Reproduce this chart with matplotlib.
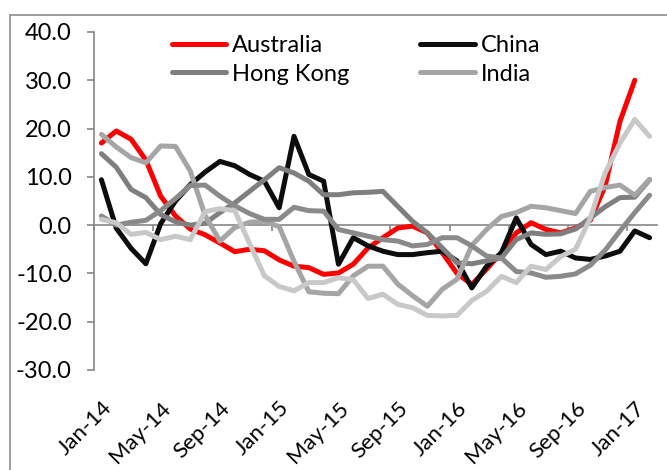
import numpy as np
import matplotlib.pyplot as plt
from matplotlib.patches import Rectangle
from matplotlib.ticker import FormatStrFormatter

plt.rcParams['font.family'] = ['Lato', 'DejaVu Sans']

# aylik veriler, Jan-14 .. Feb-17 (38 ay)
months = ["Jan-14", "Feb-14", "Mar-14", "Apr-14", "May-14", "Jun-14", "Jul-14", "Aug-14",
          "Sep-14", "Oct-14", "Nov-14", "Dec-14", "Jan-15", "Feb-15", "Mar-15", "Apr-15",
          "May-15", "Jun-15", "Jul-15", "Aug-15", "Sep-15", "Oct-15", "Nov-15", "Dec-15",
          "Jan-16", "Feb-16", "Mar-16", "Apr-16", "May-16", "Jun-16", "Jul-16", "Aug-16",
          "Sep-16", "Oct-16", "Nov-16", "Dec-16", "Jan-17", "Feb-17"]

australia = [17.0, 19.5, 17.8, 13.5, 6.0, 1.9, -0.8, -2.0, -3.7, -5.5, -5.0, -5.3,
             -7.2, -8.5, -8.8, -10.2, -9.9, -8.1, -4.7, -2.6, -0.6, -0.2, -1.6, -5.7,
             -10.0, -12.3, -9.1, -5.7, -1.6, 0.5, -0.9, -1.6, -0.6, 1.0, 8.1, 21.5,
             30.0, np.nan]
china = [9.4, -0.6, -4.8, -8.0, 0.3, 5.0, 8.4, 11.0, 13.2, 12.3, 10.5, 9.1,
         3.6, 18.4, 10.5, 9.1, -8.1, -2.6, -4.3, -5.4, -6.1, -6.1, -5.7, -5.4,
         -7.4, -13.0, -8.5, -5.7, 1.5, -4.0, -6.1, -5.4, -6.8, -7.1, -6.4, -5.4,
         -1.2, -2.6]
hong_kong = [14.8, 12.0, 7.4, 5.7, 2.2, 0.7, 0.0, 0.4, 2.6, 4.6, 7.0, 9.4,
             11.9, 10.8, 9.1, 6.3, 6.3, 6.7, 6.8, 7.0, 3.9, 0.8, -1.6, -4.7,
             -7.8, -8.0, -7.4, -6.8, -3.0, -1.6, -1.9, -1.8, -0.8, 1.5, 3.8, 5.7,
             5.8, 9.4]
india = [18.8, 16.2, 14.0, 12.9, 16.4, 16.3, 11.2, 2.0, -3.3, -0.5, 0.6, 0.8,
         -0.3, -7.5, -13.8, -14.1, -14.2, -10.5, -8.5, -8.5, -12.2, -14.6, -16.8, -13.3,
         -11.2, -4.2, -0.9, 1.8, 2.6, 3.9, 3.6, 3.0, 2.4, 7.0, 7.8, 8.3,
         6.2, 9.5]
series5 = [1.9, 0.0, 0.6, 1.0, 3.0, 5.5, 8.2, 8.3, 6.0, 4.0, 2.4, 1.2,
           1.2, 3.7, 3.0, 2.9, -0.9, -1.6, -2.3, -3.0, -3.3, -4.3, -4.0, -2.6,
           -2.6, -4.3, -6.4, -6.8, -9.6, -9.9, -10.8, -10.6, -10.1, -8.3, -5.2, -1.2,
           2.6, 6.2]
series6 = [1.2, 0.5, -1.9, -1.5, -3.0, -2.3, -3.0, 2.8, 3.4, 3.0, -3.8, -10.5,
           -12.7, -13.6, -11.9, -11.9, -10.9, -11.3, -15.2, -14.3, -16.4, -17.1, -18.7, -18.8,
           -18.7, -15.6, -13.7, -10.6, -11.9, -8.5, -9.2, -6.5, -5.0, 1.5, 10.8, 17.0,
           21.9, 18.4]

yticks = [-30, -20, -10, 0, 10, 20, 30, 40]

x = np.arange(len(months))
gri = '#868686'

fig = plt.figure(figsize=(6.67, 4.70), dpi=100)
ax = fig.add_axes([94 / 667, 1 - 370 / 470, (657 - 94) / 667, (370 - 32) / 470])

stil = dict(lw=3.6, solid_joinstyle='round', solid_capstyle='round')
l_au, = ax.plot(x, australia, color='#ff0000', label='Australia', **stil)
l_cn, = ax.plot(x, china, color='#0d0d0d', label='China', **stil)
l_hk, = ax.plot(x, hong_kong, color='#7f7f7f', label='Hong Kong', **stil)
l_in, = ax.plot(x, india, color='#a5a5a5', label='India', **stil)
ax.plot(x, series5, color='#8a8a8a', **stil)
ax.plot(x, series6, color='#c8c8c8', **stil)

ax.set_xlim(-0.5, len(months) - 0.5)
ax.set_ylim(-30, 40)
ax.set_yticks(yticks)
ax.yaxis.set_major_formatter(FormatStrFormatter('%.1f'))
ax.tick_params(axis='y', direction='out', length=5, width=1.2, color=gri, pad=11,
               labelsize=17)

ax.set_xticks(x[::4])
ax.set_xticklabels(months[::4])
ax.tick_params(axis='x', length=0, pad=20, labelsize=16)
for t in ax.get_xticklabels():
    t.set_rotation(45)
    t.set_ha('right')
    t.set_va('top')
    t.set_rotation_mode('anchor')

for s in ['top', 'right', 'bottom']:
    ax.spines[s].set_visible(False)
ax.spines['left'].set_color(gri)
ax.spines['left'].set_linewidth(1.2)

# sifir cizgisi ve kategori tikleri
sec = ax.secondary_xaxis(30 / 70)
sec.set_xticks(np.arange(-0.5, len(months) - 1, 4))
sec.tick_params(direction='out', length=4, width=1.2, color=gri, labelbottom=False)
sec.spines['bottom'].set_color(gri)
sec.spines['bottom'].set_linewidth(1.2)
sec.set_zorder(0)

ax.legend(handles=[l_au, l_hk, l_cn, l_in], ncol=2, loc='upper left',
          bbox_to_anchor=(172 / 667, 1 - 35 / 470), bbox_transform=fig.transFigure,
          frameon=False, borderpad=0, borderaxespad=0, handlelength=2.3,
          handletextpad=0.25, columnspacing=3.0, labelspacing=0.32, fontsize=17)

fig.patches.append(Rectangle((10 / 667, -0.1), 1.2, 1 - 15.5 / 470 + 0.1,
                             transform=fig.transFigure, fill=False,
                             edgecolor='#8c8c8c', lw=1.2))

fig.savefig('out.png', dpi=100)
